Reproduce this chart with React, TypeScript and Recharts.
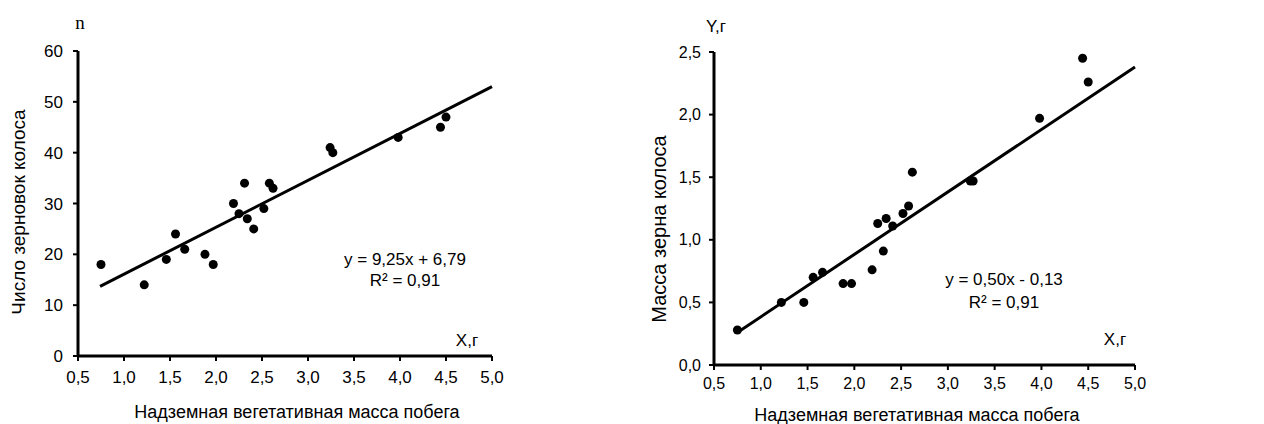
import { ScatterChart, Scatter, XAxis, YAxis, ReferenceLine } from 'recharts'

// shoot mass, g (same plants on both panels)
const shootMass = [0.75, 1.22, 1.46, 1.56, 1.66, 1.88, 1.97, 2.19, 2.25, 2.31, 2.34, 2.41, 2.52, 2.58, 2.62, 3.24, 3.27, 3.98, 4.44, 4.5]
// grains per ear
const grainCount = [18, 14, 19, 24, 21, 20, 18, 30, 28, 34, 27, 25, 29, 34, 33, 41, 40, 43, 45, 47]
// grain mass per ear, g
const grainMass = [0.28, 0.5, 0.5, 0.7, 0.74, 0.65, 0.65, 0.76, 1.13, 0.91, 1.17, 1.11, 1.21, 1.27, 1.54, 1.47, 1.47, 1.97, 2.45, 2.26]

const xTicks = [0.5, 1, 1.5, 2, 2.5, 3, 3.5, 4, 4.5, 5]
const countTicks = [0, 10, 20, 30, 40, 50, 60]
const massTicks = [0, 0.5, 1, 1.5, 2, 2.5]

// trend line ends as drawn
const countTrend = [{ x: 0.74, y: 13.7 }, { x: 5, y: 53 }]
const massTrend = [{ x: 0.75, y: 0.26 }, { x: 5, y: 2.38 }]

const countData = shootMass.map((x, i) => ({ x, y: grainCount[i] }))
const massData = shootMass.map((x, i) => ({ x, y: grainMass[i] }))

const FONT = '"Liberation Sans", Arial, sans-serif'
const comma = (v: number) => v.toFixed(1).replace('.', ',')

const dot = (p: any) => <circle cx={p.cx} cy={p.cy} r={4.5} fill="#000" />

const axisLine = { stroke: '#000', strokeWidth: 3 }
const tickLine = { stroke: '#000', strokeWidth: 2 }

export default function App() {
  return (
    <div style={{ position: 'absolute', left: 0, top: 0, width: 1264, height: 424, background: '#fff', fontFamily: FONT }}>
      <div style={{ position: 'absolute', left: 0, top: 0 }}>
        <ScatterChart width={620} height={424} margin={{ top: 51, right: 128, bottom: 0, left: 0 }}>
          <XAxis
            type="number"
            dataKey="x"
            domain={[0.5, 5]}
            ticks={xTicks}
            tickFormatter={comma}
            height={68}
            axisLine={axisLine}
            tickLine={tickLine}
            tickSize={5}
            tickMargin={10}
            tick={{ fill: '#000', fontSize: 17, fontFamily: FONT }}
          />
          <YAxis
            type="number"
            dataKey="y"
            domain={[0, 60]}
            ticks={countTicks}
            width={78}
            axisLine={axisLine}
            tickLine={tickLine}
            tickSize={5}
            tickMargin={10}
            tick={{ fill: '#000', fontSize: 17, fontFamily: FONT }}
          />
          <ReferenceLine segment={countTrend} stroke="#000" strokeWidth={3} />
          <Scatter data={countData} shape={dot} isAnimationActive={false} />
          <text x={80} y={22} textAnchor="middle" dominantBaseline="central" fontFamily='"Liberation Serif", serif' fontSize={19}>n</text>
          <text x={18} y={212} textAnchor="middle" dominantBaseline="central" fontFamily={FONT} fontSize={19} transform="rotate(-90, 18, 212)">Число зерновок колоса</text>
          <text x={297} y={412} textAnchor="middle" dominantBaseline="central" fontFamily={FONT} fontSize={18}>Надземная вегетативная масса побега</text>
          <text x={405} y={259} textAnchor="middle" dominantBaseline="central" fontFamily={FONT} fontSize={17}>y = 9,25x + 6,79</text>
          <text x={405} y={280} textAnchor="middle" dominantBaseline="central" fontFamily={FONT} fontSize={17}>R² = 0,91</text>
          <text x={467} y={340} textAnchor="middle" dominantBaseline="central" fontFamily={FONT} fontSize={17}>X,г</text>
        </ScatterChart>
      </div>
      <div style={{ position: 'absolute', left: 624, top: 0 }}>
        <ScatterChart width={640} height={424} margin={{ top: 52, right: 129, bottom: 0, left: 0 }}>
          <XAxis
            type="number"
            dataKey="x"
            domain={[0.5, 5]}
            ticks={xTicks}
            tickFormatter={comma}
            height={59}
            axisLine={axisLine}
            tickLine={tickLine}
            tickSize={5}
            tickMargin={8}
            tick={{ fill: '#000', fontSize: 16, fontFamily: FONT }}
          />
          <YAxis
            type="number"
            dataKey="y"
            domain={[0, 2.5]}
            ticks={massTicks}
            tickFormatter={comma}
            width={90}
            axisLine={axisLine}
            tickLine={tickLine}
            tickSize={5}
            tickMargin={8}
            tick={{ fill: '#000', fontSize: 16, fontFamily: FONT }}
          />
          <ReferenceLine segment={massTrend} stroke="#000" strokeWidth={3} />
          <Scatter data={massData} shape={dot} isAnimationActive={false} />
          <text x={92} y={26} textAnchor="middle" dominantBaseline="central" fontFamily={FONT} fontSize={17}>Y,г</text>
          <text x={35} y={229} textAnchor="middle" dominantBaseline="central" fontFamily={FONT} fontSize={20} transform="rotate(-90, 35, 229)">Масса зерна колоса</text>
          <text x={293} y={415} textAnchor="middle" dominantBaseline="central" fontFamily={FONT} fontSize={18}>Надземная вегетативная масса побега</text>
          <text x={380} y={279} textAnchor="middle" dominantBaseline="central" fontFamily={FONT} fontSize={17}>y = 0,50x - 0,13</text>
          <text x={380} y={302} textAnchor="middle" dominantBaseline="central" fontFamily={FONT} fontSize={17}>R² = 0,91</text>
          <text x={491} y={339} textAnchor="middle" dominantBaseline="central" fontFamily={FONT} fontSize={17}>X,г</text>
        </ScatterChart>
      </div>
    </div>
  )
}
